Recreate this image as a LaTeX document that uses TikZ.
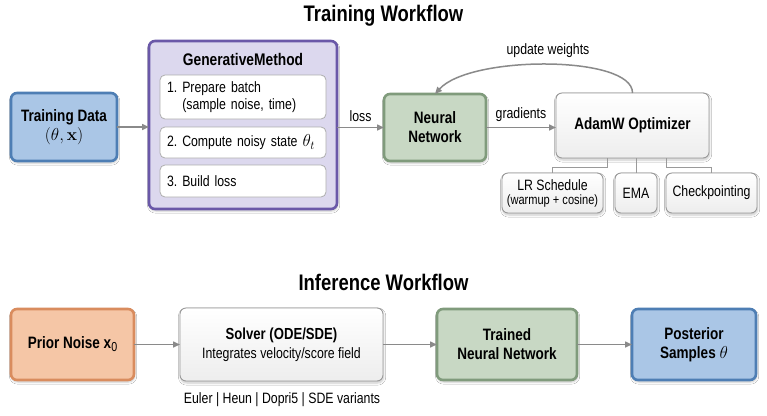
\documentclass[tikz,border=0pt]{standalone}
\usepackage[no-math]{fontspec}
\setmainfont{Liberation Sans}[FakeStretch=0.82]
\frenchspacing
\usetikzlibrary{shadows.blur,calc,arrows.meta}
\definecolor{bluefill}{HTML}{AAC6E6}
\definecolor{blueline}{HTML}{4E7EB4}
\definecolor{purpfill}{HTML}{DCD8EE}
\definecolor{purpline}{HTML}{6A58A8}
\definecolor{greenfill}{HTML}{C8D8C4}
\definecolor{greenline}{HTML}{809B7C}
\definecolor{orfill}{HTML}{F5C6A6}
\definecolor{orline}{HTML}{D98C5E}
\definecolor{grayline}{HTML}{9A9A9A}
\definecolor{arrowc}{HTML}{8A8A8A}
\tikzset{
  box/.style={rounded corners=6pt, align=center, inner sep=2pt, outer sep=0pt,
    blur shadow={shadow blur steps=6, shadow xshift=0.6pt, shadow yshift=-2pt, shadow opacity=22}},
  bigbox/.style={box, line width=2.6pt},
  lightbox/.style={box, draw=grayline, line width=0.9pt, top color=white, bottom color=black!7},
  stepbox/.style={rounded corners=5pt, draw=grayline!80, line width=0.8pt, fill=white, outer sep=0pt,
    minimum width=166pt, align=left, text width=152pt, inner sep=0pt, font=\fontsize{15}{16.5}\selectfont},
  subbox/.style={lightbox, minimum height=40pt, font=\fontsize{15}{15}\selectfont},
  arr/.style={draw=arrowc, line width=1.5pt, -{Triangle[length=7pt,width=6pt]}},
  link/.style={draw=grayline, line width=1pt},
  ttl/.style={font=\fontsize{22.5}{25}\selectfont\bfseries},
  lbl/.style={font=\fontsize{15}{17}\selectfont},
  btxt/.style={font=\fontsize{16.5}{19}\selectfont\bfseries},
}
\begin{document}
\begin{tikzpicture}[x=1pt,y=-1pt]
\useasboundingbox (0,0) rectangle (767,415);
\fill[white] (0,0) rectangle (767,415);
% titles
\node[ttl] (t1) at (383.5,16) {Training Workflow};
\node[ttl] (t2) at (383.5,282) {Inference Workflow};
% training
\node[bigbox, draw=blueline, fill=bluefill, minimum width=106pt, minimum height=68pt, btxt] (td) at (64,127)
  {Training Data\\[0pt] {\fontsize{17}{19}\selectfont$(\theta,\mathbf{x})$}};
\node[bigbox, draw=purpline, fill=purpfill, minimum width=188pt, minimum height=168pt] (gm) at (243,125) {};
\node[font=\fontsize{16.8}{19}\selectfont\bfseries] (gmt) at (243,59) {GenerativeMethod};
\node[stepbox, minimum height=44pt] (s1) at (243,97) {1. Prepare batch\\\phantom{1. }(sample noise, time)};
\node[stepbox, minimum height=31pt] (s2) at (243,142.5) {2. Compute noisy state {\fontsize{17}{17}\selectfont$\theta_t$}};
\node[stepbox, minimum height=32pt] (s3) at (243,181) {3. Build loss};
\node[bigbox, draw=greenline, fill=greenfill, minimum width=102pt, minimum height=67pt, btxt] (nn) at (435,127.5)
  {Neural\\Network};
\node[lightbox, minimum width=153pt, minimum height=65pt, btxt] (ad) at (632.5,125.5) {AdamW Optimizer};
\node[subbox, minimum width=101pt] (lr) at (552.5,193) {LR Schedule\\[-1pt]{\fontsize{13.5}{14}\selectfont(warmup + cosine)}};
\node[subbox, minimum width=42pt] (ema) at (636,193) {EMA};
\node[subbox, minimum width=91pt] (ck) at (711.5,193) {Checkpointing};
% training connectors
\draw[arr] (td.east) -- (td.east -| gm.west);
\draw[arr] (nn.west -| gm.east) -- node[lbl, above=2pt] (lossl) {loss} (nn.west);
\draw[arr] (nn.east) -- node[lbl, above=2pt] (gradl) {gradients} (nn.east -| ad.west);
\draw[arr] (ad.north) .. controls (633,55) and (470,55) .. (nn.north);
\node[lbl] (upd) at (548,51) {update weights};
\draw[link] ([xshift=-25.5pt]ad.south) -- ++(0,9) -| (lr.north);
\draw[link] (ad.south -| ema.north) -- (ema.north);
\draw[link] ([xshift=33.5pt]ad.south) -- ++(0,9) -| (ck.north);
% inference
\node[bigbox, draw=orline, fill=orfill, minimum width=123pt, minimum height=71pt, btxt] (pn) at (72.5,344.5)
  {Prior Noise x\raisebox{-0.35ex}{\mdseries\fontsize{13}{13}\selectfont 0}};
\node[lightbox, minimum width=203pt, minimum height=73pt] (sv) at (281.5,344.5)
  {{\fontsize{16}{18}\selectfont\bfseries Solver (ODE/SDE)}\\[4pt]{\fontsize{15}{17}\selectfont Integrates velocity/score field}};
\node[bigbox, draw=greenline, fill=greenfill, minimum width=140pt, minimum height=71pt, btxt] (tn) at (507,344.5)
  {Trained\\Neural Network};
\node[bigbox, draw=blueline, fill=bluefill, minimum width=124pt, minimum height=71pt, btxt] (ps) at (694,344.5)
  {Posterior\\Samples {\fontsize{17}{17}\selectfont$\theta$}};
\node[lbl] (sol) at (282,400) {Euler | Heun | Dopri5 | SDE variants};
\draw[arr] (pn.east) -- (sv.west);
\draw[arr] (sv.east) -- (tn.west);
\draw[arr] (tn.east) -- (ps.west);
\end{tikzpicture}
\end{document}
